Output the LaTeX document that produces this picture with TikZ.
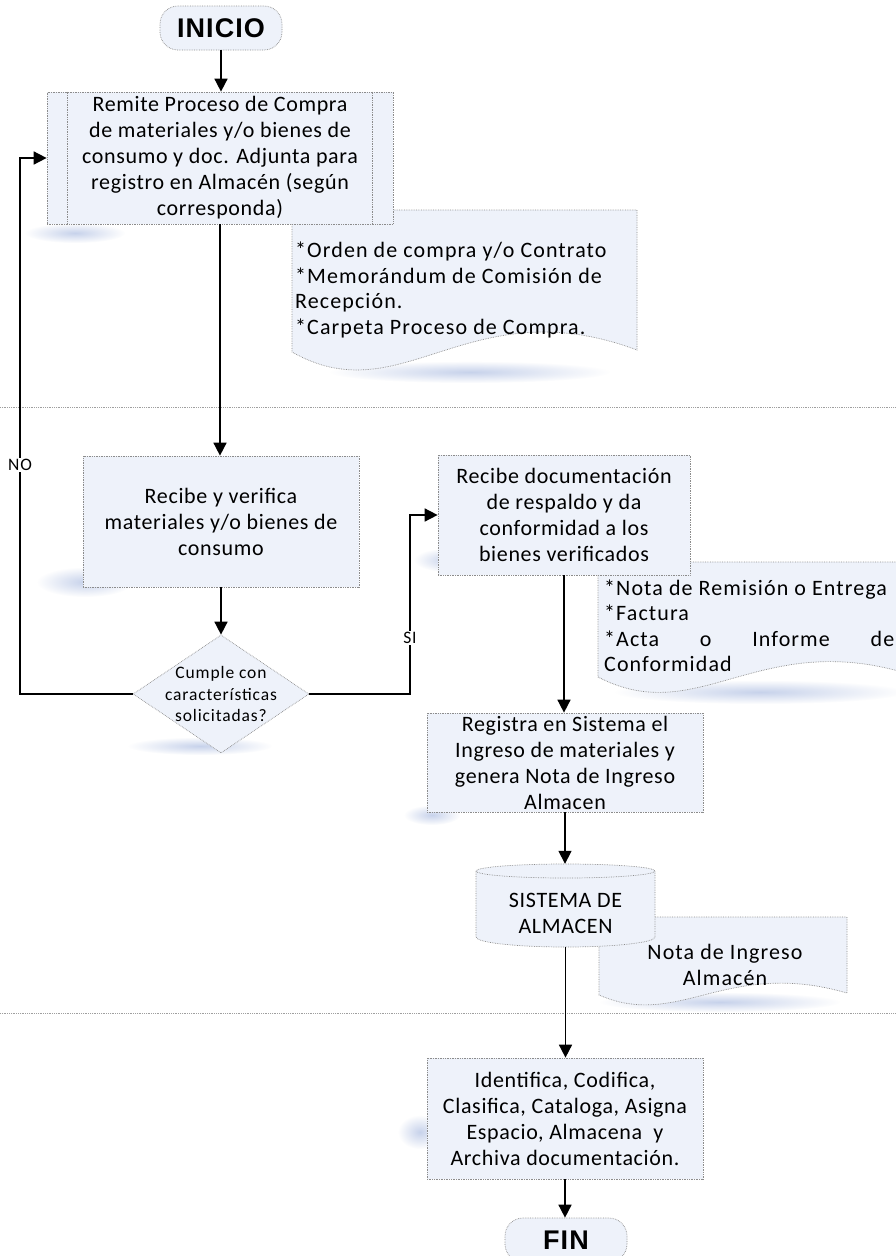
\documentclass[tikz,border=0pt]{standalone}
\usepackage{fontspec}
\setmainfont{Carlito}
\newfontfamily\bxfam[LetterSpace=3]{Carlito}
\newfontfamily\dcfam[LetterSpace=5]{Carlito}
\newfontfamily\smfam[LetterSpace=5]{Carlito}
\newfontfamily\headfont[LetterSpace=4]{Liberation Sans}
\usetikzlibrary{shapes.geometric,arrows.meta,calc,fadings}
\tikzfading[name=softspot, inner color=transparent!0, outer color=transparent!100]
\definecolor{boxfill}{HTML}{EEF2FA}
\definecolor{boxline}{HTML}{8C8C8C}
\definecolor{smearblue}{HTML}{B9C7E6}
\newcommand\bxfont{\bxfam\fontsize{22}{26}\selectfont}
\newcommand\dcfont{\dcfam\fontsize{22}{25.5}\selectfont}
\newcommand\smfont{\smfam\fontsize{17.5}{21.5}\selectfont}
\tikzset{
  shapeline/.style={draw=boxline, densely dotted, line width=0.7pt},
  proc/.style={shapeline, fill=boxfill, align=center, inner sep=0pt, font=\bxfont},
  term/.style={proc, rounded corners=18pt, font=\headfont\bfseries\fontsize{27}{30}\selectfont},
  docshape/.style={shapeline, fill=boxfill},
  doctext/.style={inner sep=0pt, align=left, font=\dcfont},
  decision/.style={shapeline, fill=boxfill, diamond, inner sep=0pt},
  arr/.style={draw=black, solid, line width=1.6pt, -{Triangle[length=13pt,width=13pt]}},
  sepline/.style={draw=gray!75, densely dotted, line width=0.8pt},
  lbl/.style={fill=white, inner sep=1.5pt, font=\smfont},
  smear/.style={fill=smearblue, fill opacity=0.8, path fading=softspot}
}
\begin{document}
\begin{tikzpicture}[x=1pt,y=-1pt]
\fill[white] (0,0) rectangle (896,1256);
\clip (0,0) rectangle (896,1256);

% faint shadow smears of the scan
\fill[smear] (75,233) ellipse [x radius=50pt, y radius=10pt];
\fill[smear] (470,372) ellipse [x radius=140pt, y radius=11pt];
\fill[smear] (85,582) ellipse [x radius=48pt, y radius=15pt];
\fill[smear] (200,746) ellipse [x radius=72pt, y radius=9pt];
\fill[smear] (448,560) ellipse [x radius=34pt, y radius=12pt];
\fill[smear] (760,692) ellipse [x radius=145pt, y radius=12pt];
\fill[smear] (432,815) ellipse [x radius=28pt, y radius=10pt];
\fill[smear] (720,1002) ellipse [x radius=120pt, y radius=10pt];
\fill[smear] (420,1132) ellipse [x radius=22pt, y radius=17pt];

% lane separators
\coordinate (s1l) at (0,407); \coordinate (s1r) at (896,407);
\coordinate (s2l) at (0,1013); \coordinate (s2r) at (896,1013);
\draw[sepline] (s1l) -- (s1r);
\draw[sepline] (s2l) -- (s2r);

% documents (behind the boxes)
\path[docshape] (292,210) -- (637,210) -- (637,350)
   .. controls (468,287) and (403,415) .. (292,352) -- cycle;
\node[doctext, anchor=west] (doc1) at (295,290)
   {*Orden de compra y/o Contrato\\*Memorándum de Comisión de\\Recepción.\\*Carpeta Proceso de Compra.};

\path[docshape] (598,562) -- (915,562) -- (915,676)
   .. controls (760,625) and (700,730) .. (598,677) -- cycle;
\node[doctext, anchor=west] (doc2) at (604,626)
   {*Nota de Remisión o Entrega\\*Factura\\\hbox to 290pt{*Acta\hfill o\hfill Informe\hfill de}\\Conformidad};

\path[docshape] (599,917) -- (847,917) -- (847,993)
   .. controls (726,958) and (679,1030) .. (599,995) -- cycle;
\node[inner sep=0pt, align=center, font=\dcfont] (doc3) at (725,965) {Nota de Ingreso\\Almacén};

% terminators and processes
\node[term, minimum width=122pt, minimum height=44pt] (inicio) at (221,28) {INICIO};
\node[proc, minimum width=346pt, minimum height=132pt] (box1) at (220,158)
   {Remite Proceso de Compra\\de materiales y/o bienes de\\consumo y doc. Adjunta para\\registro en Almacén (según\\corresponda)};
\draw[shapeline] ([xshift=21pt]box1.north west) -- ([xshift=21pt]box1.south west);
\draw[shapeline] ([xshift=-21pt]box1.north east) -- ([xshift=-21pt]box1.south east);

\node[proc, minimum width=276pt, minimum height=131pt] (box2) at (221,521.5)
   {Recibe y verifica\\materiales y/o bienes de\\consumo};
\node[decision, minimum width=176pt, minimum height=118pt,
   label={[align=center, font=\smfont, inner sep=0pt]center:Cumple con\\características\\solicitadas?}] (dia) at (221,694) {};

\node[proc, minimum width=252pt, minimum height=120pt] (box3) at (564,515)
   {Recibe documentación\\de respaldo y da\\conformidad a los\\bienes verificados};
\node[proc, minimum width=276pt, minimum height=99pt] (box4) at (565,762.5)
   {Registra en Sistema el\\Ingreso de materiales y\\genera Nota de Ingreso\\Almacen};

% storage cylinder
\node[minimum width=179pt, minimum height=83pt, inner sep=0pt] (cyl) at (565.5,905.5) {};
\path[docshape] (476,871) -- (476,937)
   arc[start angle=180, end angle=360, x radius=89.5pt, y radius=10pt]
   -- (655,871)
   arc[start angle=0, end angle=180, x radius=89.5pt, y radius=7pt] -- cycle;
\draw[shapeline] (476,871) arc[start angle=180, end angle=360, x radius=89.5pt, y radius=7pt];
\node[inner sep=0pt, align=center, font=\bxfont] (cyltext) at (565.5,913) {SISTEMA DE\\ALMACEN};

\node[proc, minimum width=276pt, minimum height=121pt] (box5) at (565,1118.5)
   {Identifica, Codifica,\\Clasifica, Cataloga, Asigna\\Espacio, Almacena~ y\\Archiva documentación.};
\node[term, minimum width=122pt, minimum height=44pt] (fin) at (566,1240) {FIN};

% connectors
\draw[arr] (inicio.south) -- (box1.north -| inicio.south);
\draw[arr] (box1.south) -- (box2.north -| box1.south);
\draw[arr] (box2.south) -- (dia.north);
\coordinate (nocorner) at (20,694);
\coordinate (sicorner) at (410,694);
\draw[arr] (dia.west) -- (nocorner) |- (box1.west);
\draw[arr] (dia.east) -- (sicorner) |- (box3.west);
\draw[arr] (box3.south) -- (box3.south |- box4.north);
\draw[arr] (box4.south) -- (box4.south |- cyl.north);
\draw[arr] (cyl.south) -- (cyl.south |- box5.north);
\draw[arr] (box5.south) -- (box5.south |- fin.north);
\node[lbl] (nolbl) at (20,465) {NO};
\node[lbl] (silbl) at (410,638) {SI};
\end{tikzpicture}
\end{document}
